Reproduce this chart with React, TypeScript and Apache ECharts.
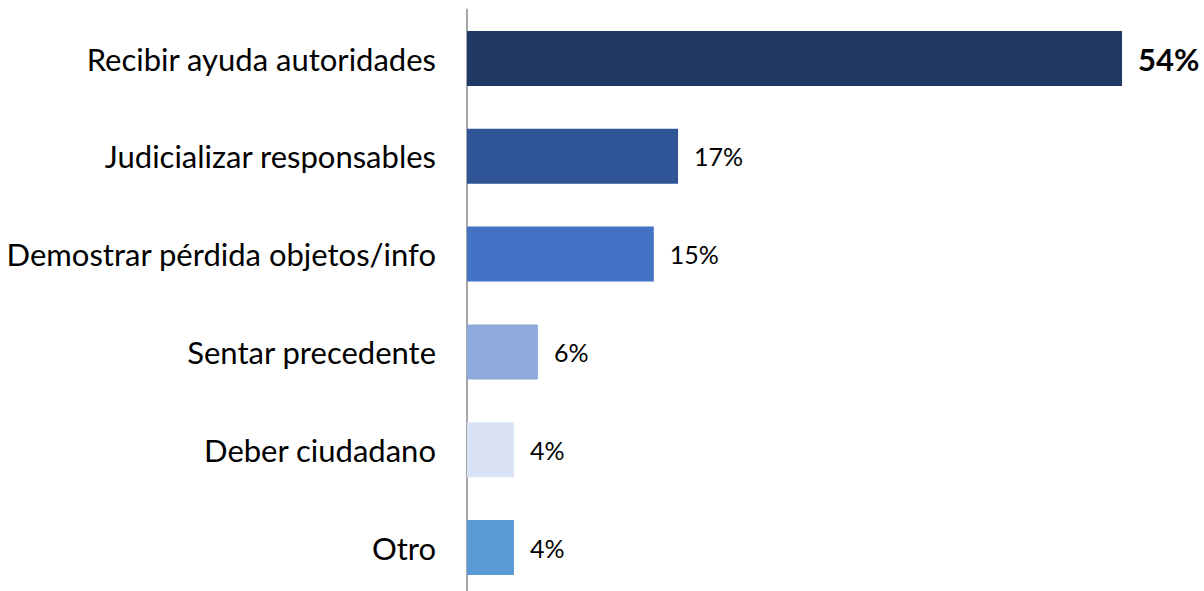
import React, { useEffect, useRef } from "react";
import * as echarts from "echarts";

const categories = [
  "Recibir ayuda autoridades",
  "Judicializar responsables",
  "Demostrar pérdida objetos/info",
  "Sentar precedente",
  "Deber ciudadano",
  "Otro",
];
const values = [54.0, 17.4, 15.4, 5.85, 3.87, 3.87];
const colors = ["#203864", "#2F5597", "#4472C4", "#8FAADC", "#DAE3F3", "#5B9BD5"];

export default function App() {
  const ref = useRef<HTMLDivElement>(null);
  useEffect(() => {
    const chart = echarts.init(ref.current!, null, { renderer: "svg" });
    const FONT = "Lato, 'Open Sans', sans-serif";
    chart.setOption({
      animation: false,
      grid: {
        left: 467,
        top: 9.6,
        height: 586.8,
        width: 727.8,
        outerBoundsMode: "none",
        containLabel: false,
      },
      xAxis: {
        type: "value",
        min: 0,
        max: 60,
        show: false,
      },
      yAxis: {
        type: "category",
        inverse: true,
        data: categories,
        axisLine: { show: true, lineStyle: { color: "#A6A6A6", width: 2 } },
        axisTick: { show: false },
        axisLabel: {
          margin: 31,
          fontSize: 31,
          color: "#000000",
          fontFamily: FONT,
        },
      },
      series: [
        {
          type: "bar",
          barWidth: 55,
          data: values.map((v, i) => ({
            value: v,
            itemStyle: { color: colors[i] },
            label:
              i === 0
                ? { fontSize: 31, fontWeight: "bold" }
                : { fontSize: 25 },
          })),
          label: {
            show: true,
            position: "right",
            distance: 16,
            color: "#000000",
            fontFamily: FONT,
            formatter: (p: any) => Math.round(p.value) + "%",
          },
        },
      ],
    });
    return () => chart.dispose();
  }, []);
  return (
    <div
      ref={ref}
      style={{ position: "absolute", left: 0, top: 0, width: 1204, height: 591 }}
    />
  );
}
